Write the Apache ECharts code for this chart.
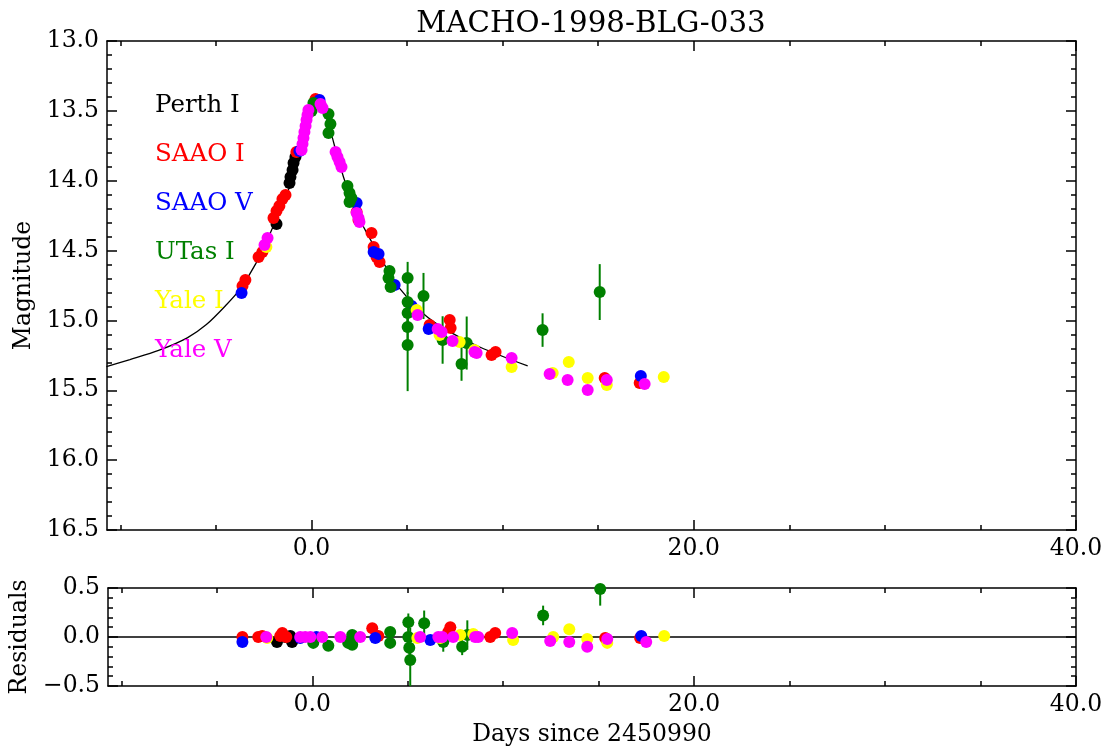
<!DOCTYPE html>
<html>
<head>
<meta charset="utf-8">
<script src="https://cdn.jsdelivr.net/npm/echarts@6/dist/echarts.min.js"></script>
<style>html,body{margin:0;padding:0;background:#fff}#chart{width:1109px;height:753px}</style>
</head>
<body>
<div id="chart"></div>
<script>
// ---------- data (days since 2450990, magnitude) ----------
const seriesNames = ['Perth I', 'SAAO I', 'SAAO V', 'UTas I', 'Yale I', 'Yale V'];
const seriesColors = ['#000000', '#ff0000', '#0000ff', '#008000', '#ffff00', '#ff00ff'];

const perthI = [[-0.84,13.830],[-0.94,13.873],[-0.99,13.923],[-1.10,13.973],[-1.15,14.016],[-1.83,14.310]];
const saaoI = [[-3.61,14.754],[-3.46,14.711],[-2.77,14.546],[-2.57,14.510],[-1.99,14.267],[-1.83,14.217],[-1.68,14.181],[-1.52,14.131],[-1.36,14.102],[-0.79,13.795],[0.21,13.415],[2.36,14.224],[2.46,14.281],[3.14,14.374],[3.25,14.474],[3.40,14.546],[3.56,14.582],[6.18,15.033],[7.23,14.997],[7.28,15.054],[9.42,15.248],[9.63,15.226],[15.34,15.412],[17.17,15.448]];
const saaoV = [[-3.66,14.804],[-0.63,13.787],[0.42,13.422],[2.36,14.160],[3.25,14.510],[3.51,14.525],[4.35,14.746],[5.24,14.897],[6.13,15.061],[17.23,15.398]];
// [day, mag, error]
const utasI = [[0.00,13.501,0.02],[0.10,13.444,0.02],[0.89,13.523,0.02],[0.99,13.594,0.02],[0.89,13.659,0.02],[1.88,14.038,0.02],[1.99,14.088,0.02],[2.09,14.124,0.02],[1.99,14.152,0.02],[4.08,14.646,0.02],[4.03,14.696,0.02],[4.14,14.761,0.02],[5.03,14.696,0.115],[5.03,14.868,0.07],[5.03,14.947,0.07],[5.03,15.047,0.10],[5.03,15.176,0.33],[5.86,14.825,0.165],[6.86,15.140,0.17],[7.85,15.312,0.12],[8.12,15.162,0.19],[12.09,15.069,0.12],[15.08,14.797,0.20]];
const yaleI = [[-2.36,14.474],[5.50,14.925],[6.70,15.104],[7.75,15.154],[8.53,15.212],[10.47,15.333],[12.62,15.376],[13.46,15.298],[14.45,15.412],[15.45,15.462],[18.43,15.405]];
const yaleV = [[-2.46,14.460],[-2.30,14.410],[-0.52,13.780],[-0.47,13.737],[-0.42,13.694],[-0.37,13.651],[-0.31,13.608],[-0.26,13.565],[-0.21,13.530],[-0.16,13.494],[0.47,13.451],[0.58,13.480],[1.26,13.795],[1.36,13.830],[1.47,13.866],[1.57,13.902],[2.36,14.231],[2.46,14.267],[2.51,14.296],[5.55,14.961],[6.60,15.061],[6.81,15.083],[7.38,15.147],[8.53,15.226],[8.64,15.233],[10.47,15.269],[12.46,15.384],[13.40,15.427],[14.45,15.498],[15.45,15.427],[17.43,15.455]];

// model light curve
const modelCurve = [[-10.73,15.330],[-9.50,15.280],[-8.00,15.215],[-6.50,15.125],[-5.50,15.030],[-4.50,14.895],[-3.77,14.782],[-2.90,14.590],[-2.11,14.360],[-1.32,14.110],[-0.54,13.770],[-0.02,13.494],[0.33,13.405],[0.90,13.600],[1.40,13.850],[1.90,14.066],[2.50,14.270],[3.00,14.400],[3.56,14.540],[4.08,14.660],[4.61,14.770],[5.81,14.947],[7.07,15.069],[8.80,15.190],[11.31,15.326]];

// residuals [day, residual]
const residPerthI = [[-1.85,-0.05],[-1.06,-0.05],[-1.41,0.00],[-1.15,0.01]];
const residSaaoI = [[-3.66,0.00],[-2.83,0.00],[-2.62,0.01],[-1.68,0.01],[-1.57,0.04],[-1.36,0.00],[3.14,0.09],[3.46,0.01],[7.12,0.05],[7.23,0.10],[9.32,0.00],[9.58,0.04],[15.34,-0.01],[17.17,-0.01]];
const residSaaoV = [[-3.66,-0.05],[-0.63,-0.01],[0.21,0.00],[3.30,-0.01],[6.18,-0.03],[17.23,0.01]];
const residUtasI = [[0.05,-0.06,0.02],[0.84,-0.09,0.02],[1.88,-0.06,0.02],[2.09,0.02,0.02],[2.09,-0.08,0.02],[4.08,0.05,0.02],[4.08,-0.06,0.02],[5.03,0.15,0.09],[5.03,0.00,0.10],[5.08,-0.11,0.07],[5.13,-0.235,0.33],[5.86,0.14,0.13],[6.86,-0.05,0.10],[7.85,-0.10,0.085],[8.12,0.02,0.15],[12.09,0.22,0.10],[15.08,0.49,0.17]];
const residYaleI = [[-2.36,-0.01],[5.50,-0.01],[6.70,-0.01],[7.75,0.02],[8.43,0.03],[10.52,-0.03],[12.62,0.00],[13.46,0.08],[14.40,-0.02],[15.45,-0.06],[18.43,0.01]];
const residYaleV = [[-2.41,0.00],[-0.63,0.00],[-0.37,0.00],[-0.10,0.00],[0.52,0.00],[1.47,0.00],[2.51,0.00],[5.65,0.00],[6.60,0.00],[6.81,0.00],[7.38,0.00],[8.53,0.00],[8.69,0.00],[10.47,0.04],[12.46,-0.04],[13.46,-0.05],[14.40,-0.10],[15.45,-0.02],[17.49,-0.05]];

// axes
const xRange = [-10.7, 40];
const xMajorTicks = [0, 20, 40];
const xMinorTicks = [-10, -5, 5, 10, 15, 25, 30, 35];
const magRange = [13.0, 16.5];
const residRange = [-0.5, 0.5];
const titleText = 'MACHO-1998-BLG-033';
const xName = 'Days since 2450990';
const yNameTop = 'Magnitude';
const yNameBottom = 'Residuals';

// ---------- chart ----------
const FONT = 'DejaVu Serif';
const FS = 23.5;
const LW = 1.5;
const chart = echarts.init(document.getElementById('chart'), null, {renderer: 'canvas'});

function fmtNum(v) {
  const s = Math.abs(v).toFixed(1);
  return v < -1e-9 ? '\u2212' + s : s;
}

function xAxes(grid, withLabels) {
  const base = {
    type: 'value', gridIndex: grid, min: xRange[0], max: xRange[1],
    splitLine: {show: false},
    axisLine: {onZero: false, lineStyle: {color: '#000', width: LW}}
  };
  const res = [];
  res.push(Object.assign({}, base, {
    position: 'bottom',
    name: withLabels ? xName : '', nameLocation: 'middle', nameGap: 37,
    nameTextStyle: {fontFamily: FONT, fontSize: FS, color: '#000'},
    axisTick: {show: true, inside: true, length: 10, customValues: xMajorTicks, lineStyle: {color: '#000', width: LW}},
    axisLabel: {show: true, customValues: xMajorTicks, formatter: fmtNum, margin: 7, fontFamily: FONT, fontSize: FS, color: '#000'}
  }));
  res.push(Object.assign({}, base, {
    position: 'bottom', axisLine: {show: false, onZero: false},
    axisTick: {show: true, inside: true, length: 5, customValues: xMinorTicks, lineStyle: {color: '#000', width: LW}},
    axisLabel: {show: false}
  }));
  res.push(Object.assign({}, base, {
    position: 'top',
    axisTick: {show: true, inside: true, length: 10, customValues: xMajorTicks, lineStyle: {color: '#000', width: LW}},
    axisLabel: {show: false}
  }));
  res.push(Object.assign({}, base, {
    position: 'top', axisLine: {show: false, onZero: false},
    axisTick: {show: true, inside: true, length: 5, customValues: xMinorTicks, lineStyle: {color: '#000', width: LW}},
    axisLabel: {show: false}
  }));
  return res;
}

function yAxes(grid, range, inverse, name, nameGap) {
  const base = {
    type: 'value', gridIndex: grid, min: range[0], max: range[1], interval: 0.5, inverse: inverse,
    splitLine: {show: false},
    axisLine: {show: true, onZero: false, lineStyle: {color: '#000', width: LW}},
    axisTick: {show: true, inside: true, length: 10, lineStyle: {color: '#000', width: LW}},
    minorTick: {show: true, splitNumber: 5, length: 5, lineStyle: {color: '#000', width: LW}}
  };
  return [
    Object.assign({}, base, {
      position: 'left', name: name, nameLocation: 'middle', nameGap: nameGap,
      nameTextStyle: {fontFamily: FONT, fontSize: FS, color: '#000'},
      axisLabel: {show: true, formatter: fmtNum, margin: 8, fontFamily: FONT, fontSize: FS, color: '#000'}
    }),
    Object.assign({}, base, {position: 'right', axisLabel: {show: false}})
  ];
}

const dataSets = [perthI, saaoI, saaoV, utasI, yaleI, yaleV];
const residSets = [residPerthI, residSaaoI, residSaaoV, residUtasI, residYaleI, residYaleV];

function errorBars(name, data, xi, yi, color) {
  return {
    type: 'custom', name: name, xAxisIndex: xi, yAxisIndex: yi, clip: true, z: 2,
    data: data,
    encode: {x: 0, y: 1},
    renderItem: function (params, api) {
      const x = api.value(0), y = api.value(1), e = api.value(2);
      const p1 = api.coord([x, y - e]);
      const p2 = api.coord([x, y + e]);
      return {type: 'line', shape: {x1: p1[0], y1: p1[1], x2: p2[0], y2: p2[1]},
              style: {stroke: color, lineWidth: 2}};
    }
  };
}

const series = [];
series.push({
  type: 'line', name: 'model', xAxisIndex: 0, yAxisIndex: 0, data: modelCurve,
  showSymbol: false, smooth: 0.3, lineStyle: {color: '#000', width: 1.3}, z: 1, silent: true
});
series.push(errorBars('UTas I', utasI, 0, 0, seriesColors[3]));
series.push(errorBars('UTas I', residUtasI, 4, 2, seriesColors[3]));
seriesNames.forEach(function (nm, i) {
  series.push({
    type: 'scatter', name: nm, xAxisIndex: 0, yAxisIndex: 0,
    data: dataSets[i].map(function (d) { return [d[0], d[1]]; }),
    symbol: 'circle', symbolSize: 12, itemStyle: {color: seriesColors[i], opacity: 1}, z: 3
  });
});
seriesNames.forEach(function (nm, i) {
  const s = {
    type: 'scatter', name: nm, xAxisIndex: 4, yAxisIndex: 2,
    data: residSets[i].map(function (d) { return [d[0], d[1]]; }),
    symbol: 'circle', symbolSize: 12, itemStyle: {color: seriesColors[i], opacity: 1}, z: 3
  };
  if (i === 0) {
    s.markLine = {silent: true, symbol: 'none', animation: false, z: 2,
      label: {show: false}, lineStyle: {color: '#000', width: LW, type: 'solid'},
      data: [{yAxis: 0}]};
  }
  series.push(s);
});

const option = {
  animation: false,
  backgroundColor: '#ffffff',
  title: {
    text: titleText, left: 586, top: 5, textAlign: 'center',
    textStyle: {fontFamily: FONT, fontSize: 29.3, fontWeight: 'normal', color: '#000'}
  },
  legend: {
    orient: 'vertical', left: 145, top: 88, itemGap: 24, itemWidth: 0, itemHeight: 24,
    icon: 'none', selectedMode: false,
    textStyle: {fontFamily: FONT, fontSize: 24.5},
    data: seriesNames.map(function (nm, i) {
      return {name: nm, icon: 'none', textStyle: {color: seriesColors[i], fontFamily: FONT, fontSize: 24.5}};
    })
  },
  grid: [
    {left: 107, top: 41, width: 969, height: 489},
    {left: 107, top: 588, width: 969, height: 98}
  ],
  xAxis: xAxes(0, false).concat(xAxes(1, true)),
  yAxis: yAxes(0, magRange, true, yNameTop, 63).concat(yAxes(1, residRange, false, yNameBottom, 76)),
  series: series
};
chart.setOption(option);
</script>
</body>
</html>
